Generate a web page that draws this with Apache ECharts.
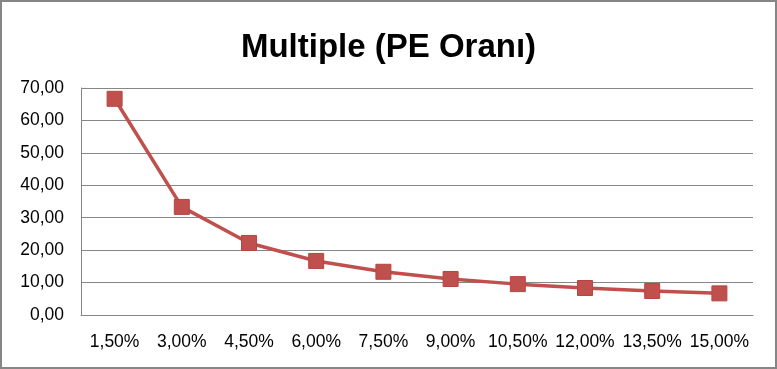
<!DOCTYPE html>
<html><head><meta charset="utf-8">
<script src="https://cdn.jsdelivr.net/npm/echarts@6/dist/echarts.min.js"></script>
<style>html,body{margin:0;padding:0;background:#fff}#c{width:777px;height:369px;box-sizing:border-box;border:2px solid #868686}</style>
</head><body><div id="c"></div>
<script>
var categories = ['1,50%','3,00%','4,50%','6,00%','7,50%','9,00%','10,50%','12,00%','13,50%','15,00%'];
var peValues = [66.67, 33.33, 22.22, 16.67, 13.33, 11.11, 9.52, 8.33, 7.41, 6.67];
var titleText = 'Multiple (PE Oranı)';
var chart = echarts.init(document.getElementById('c'), null, {renderer:'canvas'});
chart.setOption({
  animation:false,
  title:{text:titleText,left:'center',top:24,textStyle:{fontFamily:'Liberation Sans',fontWeight:'bold',fontSize:33,color:'#000'}},
  grid:{left:79,right:22,top:86,bottom:52},
  xAxis:{type:'category',data:categories,boundaryGap:true,
    axisLine:{lineStyle:{color:'#868686',width:1}},axisTick:{show:false},
    axisLabel:{fontFamily:'Liberation Sans',fontSize:17.5,color:'#000',margin:18,interval:0}},
  yAxis:{type:'value',min:0,max:70,interval:10,
    axisLine:{show:true,lineStyle:{color:'#868686'}},axisTick:{show:false},
    splitLine:{lineStyle:{color:'#868686'}},
    axisLabel:{fontFamily:'Liberation Sans',fontSize:17.5,color:'#000',margin:17,
      formatter:function(v){return v.toFixed(2).replace('.',',');}}},
  series:[{type:'line',data:peValues,symbol:'rect',symbolSize:15,
    lineStyle:{color:'#C0504D',width:3.5},
    itemStyle:{color:'#C0504D',borderColor:'#B8453F',borderWidth:1}}]
});
</script></body></html>
